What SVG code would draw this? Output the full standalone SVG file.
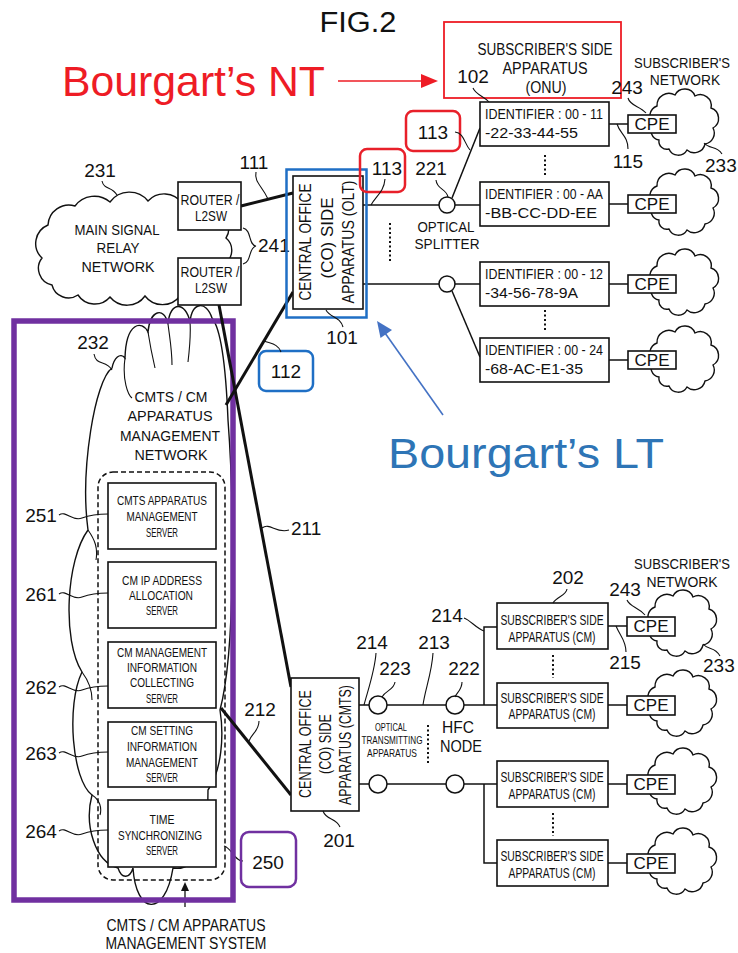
<svg xmlns="http://www.w3.org/2000/svg" width="738" height="953" viewBox="0 0 738 953">
<style>
.t{font-family:"Liberation Sans",Arial,sans-serif;fill:#111}
.n{font-family:"Liberation Sans",Arial,sans-serif;font-size:19px;fill:#111}
.bx{fill:#fff;stroke:#111;stroke-width:1.6}
.ln{fill:none;stroke:#111;stroke-width:1.5}
.th{fill:none;stroke:#111;stroke-width:3}
.ld{fill:none;stroke:#111;stroke-width:1.1}
.dt{fill:none;stroke:#111;stroke-width:2;stroke-dasharray:2 2.5}
.cl{fill:#fff;stroke:#111;stroke-width:1.4}
.cpe{font-family:"Liberation Sans",Arial,sans-serif;font-size:17px;fill:#111}
</style>
<defs>
<path id="cloud" d="M-24,18 A10,10 0 0 1 -30,2 A11,11 0 0 1 -26,-16 A12,12 0 0 1 -8,-27 A11,11 0 0 1 12,-26 A11,11 0 0 1 28,-14 A11,11 0 0 1 30,6 A11,11 0 0 1 22,22 A11,11 0 0 1 4,28 A10,10 0 0 1 -14,27 A8,8 0 0 1 -24,18 Z"/>
</defs>
<rect width="738" height="953" fill="#fff"/>

<text class="t" x="358" y="32" font-size="29" text-anchor="middle" textLength="77" lengthAdjust="spacingAndGlyphs">FIG.2</text>

<g id="annot-nt">
<text x="62" y="96" font-family="Liberation Sans,Arial,sans-serif" font-size="42" fill="#EE1C25" textLength="263" lengthAdjust="spacingAndGlyphs">Bourgart’s NT</text>
<line x1="338" y1="81" x2="424" y2="81" stroke="#EE1C25" stroke-width="1.6"/>
<polygon points="421,74 438,81 421,88" fill="#EE1C25"/>
<rect x="444" y="22" width="177" height="76" fill="none" stroke="#EE1C25" stroke-width="1.8"/>
</g>
<g id="annot-lt">
<text x="388" y="468" font-family="Liberation Sans,Arial,sans-serif" font-size="42" fill="#2E75B6" textLength="276" lengthAdjust="spacingAndGlyphs">Bourgart’s LT</text>
<line x1="443" y1="415" x2="385" y2="333" stroke="#4472C4" stroke-width="1.6"/>
<polygon points="377,321 392,330 380.5,338" fill="#4472C4"/>
</g>

<g id="cloud231">
<path class="cl" d="M52,285 A17,17 0 0 1 42,258 A20,20 0 0 1 48,225 A21,21 0 0 1 75,206 A24,24 0 0 1 110,202 A24,24 0 0 1 148,201 A22,22 0 0 1 182,203 A20,20 0 0 1 214,212 A17,17 0 0 1 226,238 A16,16 0 0 1 224,264 A17,17 0 0 1 210,287 A22,22 0 0 1 180,296 A22,22 0 0 1 145,296 A22,22 0 0 1 110,297 A20,20 0 0 1 78,295 A17,17 0 0 1 52,285 Z"/>
<text class="t" font-size="15" text-anchor="middle" x="117" y="235" textLength="85" lengthAdjust="spacingAndGlyphs">MAIN SIGNAL</text>
<text class="t" font-size="15" text-anchor="middle" x="118" y="253" textLength="43" lengthAdjust="spacingAndGlyphs">RELAY</text>
<text class="t" font-size="15" text-anchor="middle" x="118" y="272" textLength="73" lengthAdjust="spacingAndGlyphs">NETWORK</text>
<text class="n" x="100" y="177" text-anchor="middle">231</text>
<path class="ld" d="M102,181 C104,190 112,186 117,195"/>
</g>

<g id="cloud232">
<path class="cl" fill="none" d="M112,368 C95,380 80,470 88,530 C66,560 62,640 82,672 C66,705 72,780 92,795 C84,825 95,862 118,868 C122,880 130,878 133,868 C136,915 165,918 173,868 C195,872 208,845 208,790 C222,770 224,735 220,710 C236,650 234,500 228,420 C226,370 222,330 212,318 C206,300 192,302 190,322 C186,302 170,300 168,324 C164,306 150,310 148,332 C142,320 126,322 125,358 C120,352 114,358 112,368 Z"/>
<path class="ld" d="M148,332 C150,345 152,355 155,368 M168,324 C170,340 172,350 172,365 M190,322 C191,335 190,345 188,362 M125,358 C122,380 128,395 132,398 M88,530 C95,540 98,548 96,560 M82,672 C88,680 92,690 92,700 M92,795 C100,800 102,808 100,815"/>
<text class="t" font-size="15" text-anchor="middle" x="171" y="402" textLength="73" lengthAdjust="spacingAndGlyphs">CMTS / CM</text>
<text class="t" font-size="15" text-anchor="middle" x="170" y="421" textLength="85" lengthAdjust="spacingAndGlyphs">APPARATUS</text>
<text class="t" font-size="15" text-anchor="middle" x="170" y="441" textLength="100" lengthAdjust="spacingAndGlyphs">MANAGEMENT</text>
<text class="t" font-size="15" text-anchor="middle" x="171" y="460" textLength="73" lengthAdjust="spacingAndGlyphs">NETWORK</text>
<text class="n" x="93" y="349" text-anchor="middle">232</text>
<path class="ld" d="M94,354 C96,366 106,360 112,370"/>
</g>

<g id="mgmt250">
<rect x="98" y="472" width="127" height="408" rx="15" fill="none" stroke="#111" stroke-width="1.5" stroke-dasharray="5 3"/>
<text class="n" x="268" y="869" text-anchor="middle">250</text>
<path class="ld" d="M224,846 C232,848 234,861 243,861"/>
<rect x="241" y="832" width="55" height="55" rx="8" fill="none" stroke="#7030A0" stroke-width="2.5"/>
<line x1="185" y1="907" x2="185" y2="890" stroke="#111" stroke-width="1.3"/>
<polygon points="181,891 185,882 189,891" fill="#111"/>
<text class="t" font-size="16" text-anchor="middle" x="186" y="931" textLength="159" lengthAdjust="spacingAndGlyphs">CMTS / CM APPARATUS</text>
<text class="t" font-size="16" text-anchor="middle" x="186" y="949" textLength="161" lengthAdjust="spacingAndGlyphs">MANAGEMENT SYSTEM</text>
</g>

<g id="srv251">
<rect class="bx" x="108" y="483" width="108" height="66"/>
<text class="t" font-size="13" text-anchor="middle" x="162" y="505" textLength="90" lengthAdjust="spacingAndGlyphs">CMTS APPARATUS</text>
<text class="t" font-size="13" text-anchor="middle" x="162" y="521" textLength="71" lengthAdjust="spacingAndGlyphs">MANAGEMENT</text>
<text class="t" font-size="13" text-anchor="middle" x="162" y="537" textLength="32" lengthAdjust="spacingAndGlyphs">SERVER</text>
<text class="n" x="41" y="522" text-anchor="middle">251</text>
<path class="ld" d="M59,515 C66,510 72,522 82,518 C90,515 100,514 108,514"/>
</g>
<g id="srv261">
<rect class="bx" x="108" y="562" width="108" height="66"/>
<text class="t" font-size="13" text-anchor="middle" x="162" y="585" textLength="80" lengthAdjust="spacingAndGlyphs">CM IP ADDRESS</text>
<text class="t" font-size="13" text-anchor="middle" x="161" y="600" textLength="64" lengthAdjust="spacingAndGlyphs">ALLOCATION</text>
<text class="t" font-size="13" text-anchor="middle" x="162" y="615" textLength="32" lengthAdjust="spacingAndGlyphs">SERVER</text>
<text class="n" x="41" y="601" text-anchor="middle">261</text>
<path class="ld" d="M59,594 C66,589 72,601 82,597 C90,594 100,593 108,593"/>
</g>
<g id="srv262">
<rect class="bx" x="108" y="642" width="108" height="66"/>
<text class="t" font-size="13" text-anchor="middle" x="162" y="657" textLength="90" lengthAdjust="spacingAndGlyphs">CM MANAGEMENT</text>
<text class="t" font-size="13" text-anchor="middle" x="162" y="672" textLength="70" lengthAdjust="spacingAndGlyphs">INFORMATION</text>
<text class="t" font-size="13" text-anchor="middle" x="162" y="687" textLength="64" lengthAdjust="spacingAndGlyphs">COLLECTING</text>
<text class="t" font-size="13" text-anchor="middle" x="162" y="703" textLength="32" lengthAdjust="spacingAndGlyphs">SERVER</text>
<text class="n" x="41" y="694" text-anchor="middle">262</text>
<path class="ld" d="M59,687 C66,682 72,694 82,690 C90,687 100,686 108,686"/>
</g>
<g id="srv263">
<rect class="bx" x="108" y="722" width="108" height="65"/>
<text class="t" font-size="13" text-anchor="middle" x="162" y="735" textLength="62" lengthAdjust="spacingAndGlyphs">CM SETTING</text>
<text class="t" font-size="13" text-anchor="middle" x="162" y="751" textLength="70" lengthAdjust="spacingAndGlyphs">INFORMATION</text>
<text class="t" font-size="13" text-anchor="middle" x="162" y="767" textLength="72" lengthAdjust="spacingAndGlyphs">MANAGEMENT</text>
<text class="t" font-size="13" text-anchor="middle" x="162" y="782" textLength="32" lengthAdjust="spacingAndGlyphs">SERVER</text>
<text class="n" x="41" y="760" text-anchor="middle">263</text>
<path class="ld" d="M59,753 C66,748 72,760 82,756 C90,753 100,752 108,752"/>
</g>
<g id="srv264">
<rect class="bx" x="108" y="800" width="108" height="67"/>
<text class="t" font-size="13" text-anchor="middle" x="162" y="824" textLength="25" lengthAdjust="spacingAndGlyphs">TIME</text>
<text class="t" font-size="13" text-anchor="middle" x="160" y="840" textLength="84" lengthAdjust="spacingAndGlyphs">SYNCHRONIZING</text>
<text class="t" font-size="13" text-anchor="middle" x="162" y="855" textLength="32" lengthAdjust="spacingAndGlyphs">SERVER</text>
<text class="n" x="41" y="838" text-anchor="middle">264</text>
<path class="ld" d="M59,831 C66,826 72,838 82,834 C90,831 100,830 108,830"/>
</g>

<rect id="purple-box" x="14" y="321" width="219" height="579" fill="none" stroke="#7030A0" stroke-width="5.5"/>

<g id="connectors">
<line class="th" x1="241" y1="206" x2="293" y2="193"/>
<line class="th" x1="293" y1="292" x2="226" y2="405"/>
<line class="th" x1="219" y1="305" x2="291" y2="687"/>
<line class="th" x1="221" y1="708" x2="291" y2="795"/>
<line class="ln" x1="363" y1="205" x2="480" y2="205"/>
<line class="ln" x1="363" y1="284" x2="480" y2="284"/>
<line class="ln" x1="452" y1="198" x2="480" y2="128"/>
<line class="ln" x1="452" y1="291" x2="480" y2="357"/>
<line class="ln" x1="609" y1="124" x2="628" y2="124"/>
<line class="ln" x1="609" y1="204" x2="628" y2="204"/>
<line class="ln" x1="609" y1="284" x2="628" y2="284"/>
<line class="ln" x1="609" y1="360" x2="628" y2="360"/>
<line class="dt" x1="390" y1="223" x2="390" y2="263"/>
<line class="dt" x1="545" y1="155" x2="545" y2="176"/>
<line class="dt" x1="545" y1="310" x2="545" y2="332"/>
<line class="ln" x1="359" y1="705" x2="497" y2="705"/>
<line class="ln" x1="359" y1="784" x2="497" y2="784"/>
<polyline class="ln" points="497,627 484,627 484,705"/>
<polyline class="ln" points="484,784 484,863 497,863"/>
<line class="ln" x1="608" y1="626" x2="627" y2="626"/>
<line class="ln" x1="608" y1="705" x2="627" y2="705"/>
<line class="ln" x1="608" y1="784" x2="627" y2="784"/>
<line class="ln" x1="608" y1="863" x2="627" y2="863"/>
<line class="dt" x1="553" y1="655" x2="553" y2="678"/>
<line class="dt" x1="553" y1="813" x2="553" y2="836"/>
<line class="dt" x1="428" y1="725" x2="428" y2="764"/>
</g>

<g id="router1">
<rect class="bx" x="178" y="182" width="63" height="48"/>
<text class="t" font-size="14" text-anchor="middle" x="210" y="205" textLength="59" lengthAdjust="spacingAndGlyphs">ROUTER /</text>
<text class="t" font-size="14" text-anchor="middle" x="211" y="221" textLength="32" lengthAdjust="spacingAndGlyphs">L2SW</text>
</g>
<g id="router2">
<rect class="bx" x="178" y="258" width="63" height="47"/>
<text class="t" font-size="14" text-anchor="middle" x="210" y="277" textLength="59" lengthAdjust="spacingAndGlyphs">ROUTER /</text>
<text class="t" font-size="14" text-anchor="middle" x="211" y="293" textLength="32" lengthAdjust="spacingAndGlyphs">L2SW</text>
</g>
<g id="labels-routers">
<text class="n" x="254" y="169" text-anchor="middle">111</text>
<path class="ld" d="M256,172 C254,182 262,186 268,199"/>
<path class="ld" d="M243,228 C252,230 248,245 256,246 C248,248 252,262 243,264"/>
<text class="n" x="258" y="252">241</text>
</g>

<g id="olt101">
<rect class="bx" x="293" y="176" width="70" height="133"/>
<text class="t" font-size="17" text-anchor="middle" transform="translate(311,242) rotate(-90)" textLength="117" lengthAdjust="spacingAndGlyphs">CENTRAL OFFICE</text>
<text class="t" font-size="17" text-anchor="middle" transform="translate(333,238) rotate(-90)" textLength="81" lengthAdjust="spacingAndGlyphs">(CO) SIDE</text>
<text class="t" font-size="17" text-anchor="middle" transform="translate(354,242) rotate(-90)" textLength="123" lengthAdjust="spacingAndGlyphs">APPARATUS (OLT)</text>
<rect x="286.5" y="169.5" width="80" height="148" fill="none" stroke="#1F6FC5" stroke-width="2.5"/>
<text class="n" x="342" y="344" text-anchor="middle">101</text>
<path class="ld" d="M326,310 C330,318 340,316 343,327"/>
<rect x="259" y="351" width="54" height="40" rx="7" fill="none" stroke="#1F6FC5" stroke-width="2.5"/>
<text class="n" x="286" y="378" text-anchor="middle">112</text>
<path class="ld" d="M264,341 C272,344 278,344 281,352"/>
<rect x="360" y="149" width="45" height="43" rx="7" fill="none" stroke="#E8202A" stroke-width="2.5"/>
<text class="n" x="387" y="175" text-anchor="middle">113</text>
<path class="ld" d="M385,179 C384,192 376,196 371,205"/>
</g>

<g id="splitter221">
<circle cx="447" cy="205" r="8" fill="#fff" stroke="#111" stroke-width="1.5"/>
<circle cx="447" cy="284" r="8" fill="#fff" stroke="#111" stroke-width="1.5"/>
<text class="t" font-size="15" text-anchor="middle" x="446" y="232" textLength="57" lengthAdjust="spacingAndGlyphs">OPTICAL</text>
<text class="t" font-size="15" text-anchor="middle" x="447" y="249" textLength="65" lengthAdjust="spacingAndGlyphs">SPLITTER</text>
<text class="n" x="431" y="175" text-anchor="middle">221</text>
<path class="ld" d="M436,180 C437,190 446,188 448,197"/>
<rect x="406" y="111" width="54" height="40" rx="7" fill="none" stroke="#E8202A" stroke-width="2.5"/>
<text class="n" x="433" y="139" text-anchor="middle">113</text>
<path class="ld" d="M455,132 C464,133 464,143 470,150"/>
</g>

<g id="onu102">
<text class="t" font-size="16" text-anchor="middle" x="545" y="55" textLength="135" lengthAdjust="spacingAndGlyphs">SUBSCRIBER'S SIDE</text>
<text class="t" font-size="16" text-anchor="middle" x="545" y="74" textLength="85" lengthAdjust="spacingAndGlyphs">APPARATUS</text>
<text class="t" font-size="16" text-anchor="middle" x="546" y="93" textLength="41" lengthAdjust="spacingAndGlyphs">(ONU)</text>
<text class="n" x="473" y="83" text-anchor="middle">102</text>
<path class="ld" d="M473,88 C476,95 484,96 489,102"/>
</g>
<g id="onu1">
<rect class="bx" x="480" y="102" width="129" height="44"/>
<text class="t" font-size="15" x="485" y="119" textLength="118" lengthAdjust="spacingAndGlyphs">IDENTIFIER : 00 - 11</text>
<text class="t" font-size="15" x="485" y="138" textLength="93" lengthAdjust="spacingAndGlyphs">-22-33-44-55</text>
</g>
<g id="onu2">
<rect class="bx" x="480" y="182" width="129" height="44"/>
<text class="t" font-size="15" x="485" y="199" textLength="118" lengthAdjust="spacingAndGlyphs">IDENTIFIER : 00 - AA</text>
<text class="t" font-size="15" x="485" y="218" textLength="112" lengthAdjust="spacingAndGlyphs">-BB-CC-DD-EE</text>
</g>
<g id="onu3">
<rect class="bx" x="480" y="262" width="129" height="44"/>
<text class="t" font-size="15" x="485" y="279" textLength="118" lengthAdjust="spacingAndGlyphs">IDENTIFIER : 00 - 12</text>
<text class="t" font-size="15" x="485" y="298" textLength="93" lengthAdjust="spacingAndGlyphs">-34-56-78-9A</text>
</g>
<g id="onu4">
<rect class="bx" x="480" y="338" width="129" height="44"/>
<text class="t" font-size="15" x="485" y="355" textLength="118" lengthAdjust="spacingAndGlyphs">IDENTIFIER : 00 - 24</text>
<text class="t" font-size="15" x="485" y="374" textLength="98" lengthAdjust="spacingAndGlyphs">-68-AC-E1-35</text>
</g>

<g id="subnet-top">
<text class="t" font-size="15" text-anchor="middle" transform="translate(682,68) scale(0.87,1)">SUBSCRIBER'S</text>
<text class="t" font-size="15" text-anchor="middle" transform="translate(685,85) scale(0.92,1)">NETWORK</text>
<use href="#cloud" x="683" y="122" class="cl"/>
<use href="#cloud" x="683" y="202" class="cl"/>
<use href="#cloud" x="683" y="282" class="cl"/>
<use href="#cloud" x="683" y="359" class="cl"/>
<rect class="bx" x="628" y="115" width="48" height="18"/>
<text class="cpe" x="652" y="130" text-anchor="middle">CPE</text>
<rect class="bx" x="628" y="195" width="48" height="18"/>
<text class="cpe" x="652" y="210" text-anchor="middle">CPE</text>
<rect class="bx" x="628" y="275" width="48" height="18"/>
<text class="cpe" x="652" y="290" text-anchor="middle">CPE</text>
<rect class="bx" x="628" y="351" width="48" height="18"/>
<text class="cpe" x="652" y="366" text-anchor="middle">CPE</text>
<text class="n" x="627" y="94" text-anchor="middle">243</text>
<path class="ld" d="M628,98 C630,106 640,106 646,113"/>
<text class="n" x="628" y="168" text-anchor="middle">115</text>
<path class="ld" d="M617,124 C620,134 628,136 628,149"/>
<text class="n" x="705" y="172">233</text>
<path class="ld" d="M704,143 C710,150 716,145 722,154"/>
</g>

<g id="cmts201">
<rect class="bx" x="291" y="678" width="68" height="133"/>
<text class="t" font-size="16" text-anchor="middle" transform="translate(311,744) rotate(-90)" textLength="108" lengthAdjust="spacingAndGlyphs">CENTRAL OFFICE</text>
<text class="t" font-size="16" text-anchor="middle" transform="translate(331,744) rotate(-90)" textLength="60" lengthAdjust="spacingAndGlyphs">(CO) SIDE</text>
<text class="t" font-size="16" text-anchor="middle" transform="translate(351,745) rotate(-90)" textLength="120" lengthAdjust="spacingAndGlyphs">APPARATUS (CMTS)</text>
<text class="n" x="339" y="847" text-anchor="middle">201</text>
<path class="ld" d="M323,811 C326,820 336,818 340,827"/>
</g>
<g id="labels-mgmt-links">
<text class="n" x="291" y="535">211</text>
<path class="ld" d="M262,528 C270,522 276,534 289,530"/>
<text class="n" x="260" y="716" text-anchor="middle">212</text>
<path class="ld" d="M259,721 C259,731 252,733 249,741"/>
</g>

<g id="optx223">
<circle cx="378" cy="705" r="9" fill="#fff" stroke="#111" stroke-width="1.5"/>
<circle cx="378" cy="784" r="9" fill="#fff" stroke="#111" stroke-width="1.5"/>
<text class="t" font-size="11" text-anchor="middle" x="391" y="731" textLength="32" lengthAdjust="spacingAndGlyphs">OPTICAL</text>
<text class="t" font-size="11" text-anchor="middle" x="392" y="744" textLength="61" lengthAdjust="spacingAndGlyphs">TRANSMITTING</text>
<text class="t" font-size="11" text-anchor="middle" x="392" y="757" textLength="50" lengthAdjust="spacingAndGlyphs">APPARATUS</text>
<text class="n" x="395" y="675" text-anchor="middle">223</text>
<path class="ld" d="M395,682 C394,690 386,690 382,697"/>
</g>
<g id="hfc222">
<circle cx="455" cy="705" r="9" fill="#fff" stroke="#111" stroke-width="1.5"/>
<circle cx="455" cy="784" r="9" fill="#fff" stroke="#111" stroke-width="1.5"/>
<text class="t" font-size="17" text-anchor="middle" x="458" y="733" textLength="32" lengthAdjust="spacingAndGlyphs">HFC</text>
<text class="t" font-size="17" text-anchor="middle" x="461" y="752" textLength="42" lengthAdjust="spacingAndGlyphs">NODE</text>
<text class="n" x="464" y="675" text-anchor="middle">222</text>
<path class="ld" d="M462,682 C462,690 457,692 455,697"/>
</g>
<g id="labels-coax">
<text class="n" x="372" y="649" text-anchor="middle">214</text>
<path class="ld" d="M376,653 C375,670 368,690 364,705"/>
<text class="n" x="434" y="649" text-anchor="middle">213</text>
<path class="ld" d="M433,653 C432,672 425,690 423,705"/>
<text class="n" x="447" y="622" text-anchor="middle">214</text>
<path class="ld" d="M464,618 C470,620 476,628 484,631"/>
</g>

<g id="cm1">
<rect class="bx" x="497" y="603" width="111" height="46"/>
<text class="t" font-size="14" text-anchor="middle" transform="translate(552,625) scale(0.74,1)">SUBSCRIBER'S SIDE</text>
<text class="t" font-size="14" text-anchor="middle" transform="translate(552,642) scale(0.74,1)">APPARATUS (CM)</text>
</g>
<g id="cm2">
<rect class="bx" x="497" y="683" width="111" height="45"/>
<text class="t" font-size="14" text-anchor="middle" transform="translate(552,703) scale(0.74,1)">SUBSCRIBER'S SIDE</text>
<text class="t" font-size="14" text-anchor="middle" transform="translate(552,719) scale(0.74,1)">APPARATUS (CM)</text>
</g>
<g id="cm3">
<rect class="bx" x="497" y="761" width="111" height="46"/>
<text class="t" font-size="14" text-anchor="middle" transform="translate(552,782) scale(0.74,1)">SUBSCRIBER'S SIDE</text>
<text class="t" font-size="14" text-anchor="middle" transform="translate(552,799) scale(0.74,1)">APPARATUS (CM)</text>
</g>
<g id="cm4">
<rect class="bx" x="497" y="840" width="111" height="46"/>
<text class="t" font-size="14" text-anchor="middle" transform="translate(552,861) scale(0.74,1)">SUBSCRIBER'S SIDE</text>
<text class="t" font-size="14" text-anchor="middle" transform="translate(552,878) scale(0.74,1)">APPARATUS (CM)</text>
</g>
<g id="cm-labels">
<text class="n" x="568" y="584" text-anchor="middle">202</text>
<path class="ld" d="M567,589 C566,596 557,596 553,603"/>
</g>

<g id="subnet-bottom">
<text class="t" font-size="15" text-anchor="middle" transform="translate(682,569) scale(0.87,1)">SUBSCRIBER'S</text>
<text class="t" font-size="15" text-anchor="middle" transform="translate(682,587) scale(0.93,1)">NETWORK</text>
<use href="#cloud" x="681" y="623" class="cl"/>
<use href="#cloud" x="681" y="703" class="cl"/>
<use href="#cloud" x="681" y="781" class="cl"/>
<use href="#cloud" x="681" y="861" class="cl"/>
<rect class="bx" x="627" y="617" width="48" height="19"/>
<text class="cpe" x="651" y="632" text-anchor="middle">CPE</text>
<rect class="bx" x="627" y="696" width="48" height="19"/>
<text class="cpe" x="651" y="711" text-anchor="middle">CPE</text>
<rect class="bx" x="627" y="775" width="48" height="19"/>
<text class="cpe" x="651" y="790" text-anchor="middle">CPE</text>
<rect class="bx" x="627" y="854" width="48" height="19"/>
<text class="cpe" x="651" y="869" text-anchor="middle">CPE</text>
<text class="n" x="625" y="596" text-anchor="middle">243</text>
<path class="ld" d="M627,600 C630,607 638,607 645,615"/>
<text class="n" x="625" y="669" text-anchor="middle">215</text>
<path class="ld" d="M616,626 C620,636 626,640 626,652"/>
<text class="n" x="703" y="672">233</text>
<path class="ld" d="M703,644 C709,651 714,646 720,656"/>
</g>
</svg>
